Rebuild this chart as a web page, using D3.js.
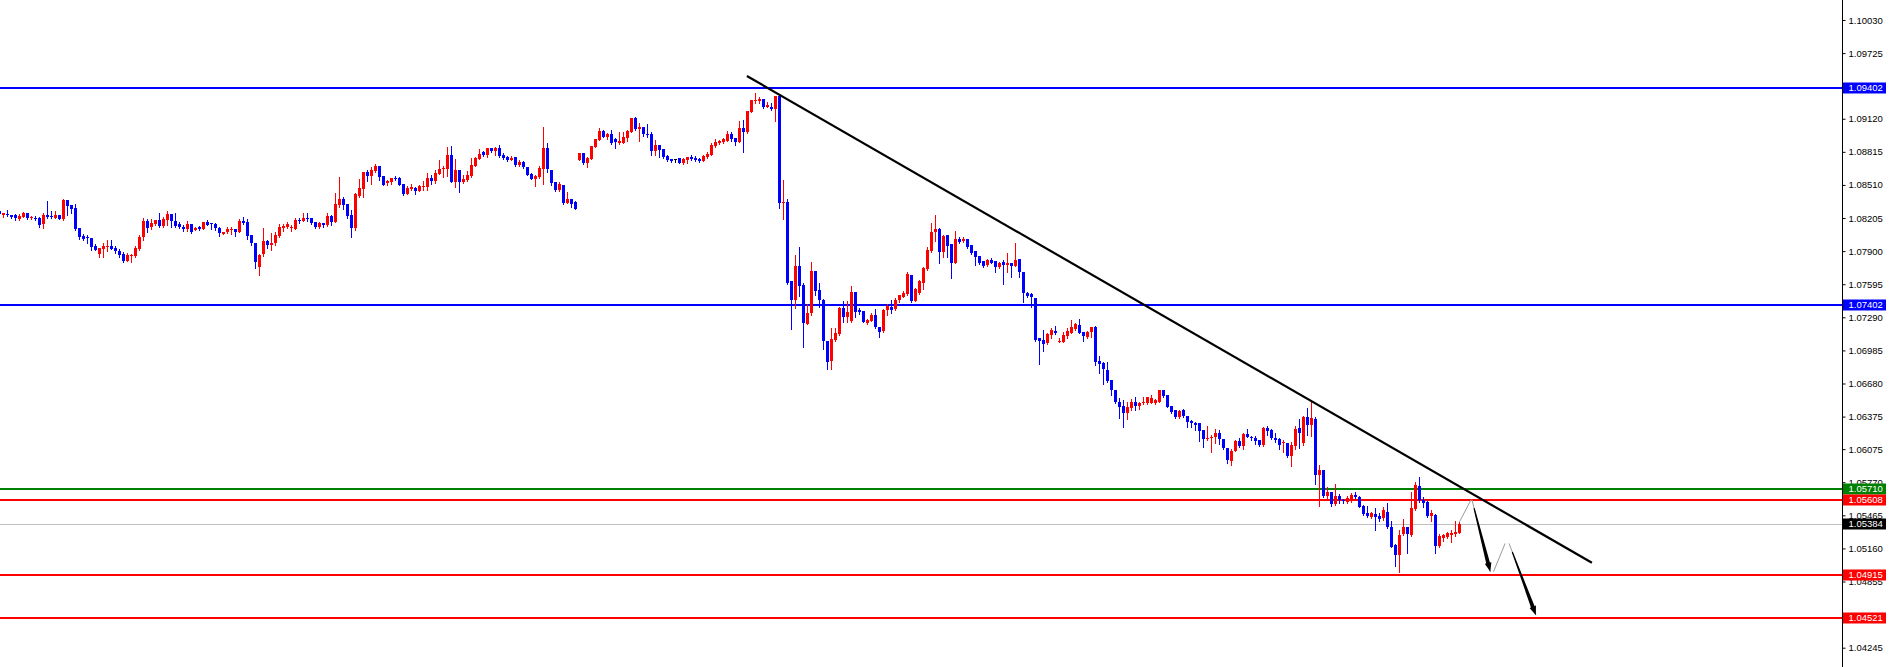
<!DOCTYPE html>
<html><head><meta charset="utf-8">
<script src="https://cdn.jsdelivr.net/npm/d3@7"></script>
<style>html,body{margin:0;padding:0;background:#fff;overflow:hidden}</style>
</head><body><svg id="chart" width="1889" height="667"></svg>
<script>
const opens=[
1.08273,1.08236,1.08245,1.08233,1.08236,1.08199,1.08217,1.08251,1.08202,1.08208,
1.08205,1.08147,1.08236,1.08227,1.08208,1.08236,1.08193,1.08371,1.08328,1.08297,
1.08110,1.08042,1.08027,1.08018,1.07950,1.07877,1.07923,1.07935,1.07947,1.07932,
1.07904,1.07873,1.07812,1.07858,1.07855,1.07920,1.08027,1.08177,1.08125,1.08153,
1.08187,1.08134,1.08184,1.08239,1.08177,1.08147,1.08125,1.08107,1.08147,1.08098,
1.08125,1.08104,1.08171,1.08156,1.08153,1.08113,1.08061,1.08073,1.08098,1.08107,
1.08079,1.08180,1.08168,1.08049,1.07978,1.07755,1.07870,1.07993,1.07957,1.07972,
1.08040,1.08113,1.08126,1.08110,1.08104,1.08190,1.08181,1.08208,1.08205,1.08168,
1.08122,1.08159,1.08141,1.08224,1.08168,1.08328,1.08380,1.08337,1.08233,1.08116,
1.08408,1.08472,1.08629,1.08592,1.08638,1.08684,1.08592,1.08528,1.08537,1.08577,
1.08577,1.08518,1.08426,1.08472,1.08482,1.08454,1.08491,1.08491,1.08574,1.08546,
1.08611,1.08654,1.08654,1.08786,1.08540,1.08647,1.08537,1.08555,1.08592,1.08684,
1.08752,1.08816,1.08786,1.08850,1.08825,1.08850,1.08786,1.08771,1.08740,1.08765,
1.08697,1.08725,1.08679,1.08611,1.08568,1.08584,1.08654,1.08851,1.08648,1.08541,
1.08464,1.08510,1.08347,1.08381,1.08356,1.08740,1.08805,1.08716,1.08752,1.08863,
1.08924,1.09007,1.08955,1.08983,1.08931,1.08900,1.08900,1.08946,1.09001,1.09130,
1.09026,1.09044,1.08983,1.08980,1.08826,1.08878,1.08842,1.08777,1.08752,1.08752,
1.08762,1.08716,1.08740,1.08768,1.08762,1.08752,1.08734,1.08771,1.08786,1.08869,
1.08897,1.08903,1.08915,1.08980,1.08943,1.08906,1.09032,1.08998,1.09185,1.09284,
1.09287,1.09302,1.09231,1.09231,1.09207,1.09330,1.08347,1.08350,1.07620,1.07445,
1.07764,1.07589,1.07230,1.07328,1.07721,1.07543,1.07451,1.07073,1.06883,1.07082,
1.07138,1.07374,1.07291,1.07260,1.07521,1.07353,1.07349,1.07236,1.07260,1.07313,
1.07205,1.07168,1.07353,1.07383,1.07365,1.07445,1.07481,1.07506,1.07681,1.07442,
1.07512,1.07610,1.07736,1.07905,1.08080,1.08105,1.07896,1.08049,1.07963,1.07795,
1.08013,1.07997,1.08010,1.07957,1.07902,1.07859,1.07810,1.07773,1.07819,1.07810,
1.07749,1.07802,1.07775,1.07787,1.07765,1.07827,1.07710,1.07510,1.07504,1.07471,
1.07096,1.07081,1.07050,1.07127,1.07164,1.07059,1.07065,1.07118,1.07148,1.07185,
1.07219,1.07157,1.07111,1.07157,1.07203,1.06890,1.06866,1.06804,1.06712,1.06620,
1.06513,1.06473,1.06411,1.06457,1.06513,1.06476,1.06497,1.06497,1.06504,1.06504,
1.06513,1.06620,1.06574,1.06473,1.06436,1.06368,1.06436,1.06384,1.06338,1.06319,
1.06313,1.06251,1.06166,1.06175,1.06184,1.06227,1.06166,1.06083,1.05969,1.06061,
1.06150,1.06107,1.06215,1.06190,1.06175,1.06159,1.06113,1.06270,1.06251,1.06175,
1.06166,1.06129,1.06129,1.06012,1.06107,1.06267,1.06129,1.06368,1.06298,1.06350,
1.05837,1.05883,1.05644,1.05684,1.05570,1.05643,1.05606,1.05591,1.05606,1.05652,
1.05637,1.05551,1.05489,1.05452,1.05477,1.05459,1.05437,1.05498,1.05360,1.05191,
1.05099,1.05293,1.05354,1.05284,1.05520,1.05738,1.05606,1.05591,1.05459,1.05468,
1.05185,1.05253,1.05268,1.05284,1.05293,1.05305];
const highs=[
1.08285,1.08251,1.08279,1.08233,1.08242,1.08239,1.08260,1.08251,1.08223,1.08227,
1.08217,1.08254,1.08362,1.08266,1.08273,1.08236,1.08380,1.08371,1.08328,1.08331,
1.08110,1.08061,1.08045,1.08018,1.07966,1.07929,1.07978,1.07999,1.08002,1.07950,
1.07923,1.07892,1.07883,1.07873,1.07950,1.08052,1.08202,1.08193,1.08193,1.08187,
1.08248,1.08211,1.08270,1.08239,1.08254,1.08168,1.08141,1.08174,1.08147,1.08119,
1.08131,1.08168,1.08187,1.08162,1.08162,1.08125,1.08079,1.08125,1.08125,1.08107,
1.08196,1.08211,1.08196,1.08049,1.07978,1.07873,1.08116,1.08003,1.08064,1.08080,
1.08150,1.08150,1.08168,1.08138,1.08202,1.08208,1.08251,1.08251,1.08205,1.08168,
1.08168,1.08159,1.08248,1.08233,1.08439,1.08583,1.08396,1.08337,1.08279,1.08439,
1.08565,1.08629,1.08647,1.08678,1.08703,1.08684,1.08592,1.08555,1.08574,1.08592,
1.08586,1.08518,1.08497,1.08515,1.08488,1.08509,1.08546,1.08623,1.08601,1.08647,
1.08740,1.08684,1.08862,1.08868,1.08752,1.08647,1.08601,1.08638,1.08761,1.08770,
1.08841,1.08825,1.08850,1.08850,1.08856,1.08878,1.08802,1.08777,1.08777,1.08765,
1.08740,1.08730,1.08679,1.08617,1.08602,1.08682,1.09044,1.08894,1.08648,1.08541,
1.08538,1.08510,1.08445,1.08381,1.08363,1.08805,1.08805,1.08771,1.08872,1.08931,
1.09038,1.09016,1.08992,1.09016,1.08940,1.09001,1.09001,1.09016,1.09127,1.09139,
1.09078,1.09044,1.09075,1.09001,1.08924,1.08878,1.08842,1.08789,1.08752,1.08752,
1.08762,1.08756,1.08768,1.08786,1.08777,1.08762,1.08786,1.08817,1.08897,1.08937,
1.08924,1.08940,1.09007,1.09001,1.08943,1.09102,1.09109,1.09188,1.09293,1.09354,
1.09323,1.09302,1.09277,1.09262,1.09330,1.09339,1.08556,1.08381,1.07620,1.07865,
1.07942,1.07607,1.07414,1.07804,1.07721,1.07607,1.07460,1.07073,1.07190,1.07190,
1.07389,1.07442,1.07442,1.07574,1.07521,1.07374,1.07349,1.07276,1.07334,1.07365,
1.07205,1.07365,1.07411,1.07451,1.07466,1.07497,1.07528,1.07706,1.07681,1.07558,
1.07635,1.07758,1.07942,1.08157,1.08234,1.08111,1.08049,1.08049,1.07963,1.08086,
1.08034,1.08034,1.08010,1.07957,1.07902,1.07859,1.07810,1.07828,1.07835,1.07810,
1.07804,1.07817,1.07885,1.07787,1.07971,1.07827,1.07710,1.07526,1.07510,1.07471,
1.07096,1.07173,1.07142,1.07188,1.07210,1.07096,1.07157,1.07188,1.07265,1.07234,
1.07271,1.07157,1.07164,1.07203,1.07210,1.06933,1.06881,1.06881,1.06712,1.06620,
1.06543,1.06528,1.06513,1.06534,1.06559,1.06513,1.06559,1.06559,1.06574,1.06537,
1.06620,1.06620,1.06574,1.06473,1.06436,1.06436,1.06445,1.06384,1.06344,1.06325,
1.06319,1.06251,1.06288,1.06205,1.06258,1.06251,1.06166,1.06083,1.06077,1.06159,
1.06175,1.06227,1.06258,1.06196,1.06196,1.06159,1.06282,1.06288,1.06258,1.06221,
1.06175,1.06159,1.06135,1.06144,1.06288,1.06350,1.06380,1.06451,1.06528,1.06374,
1.05929,1.05883,1.05730,1.05684,1.05754,1.05661,1.05612,1.05643,1.05667,1.05683,
1.05643,1.05560,1.05551,1.05498,1.05529,1.05483,1.05538,1.05575,1.05416,1.05201,
1.05330,1.05428,1.05354,1.05683,1.05775,1.05821,1.05630,1.05600,1.05514,1.05477,
1.05293,1.05293,1.05314,1.05330,1.05416,1.05406];
const lows=[
1.08230,1.08211,1.08227,1.08208,1.08190,1.08187,1.08211,1.08193,1.08193,1.08187,
1.08125,1.08116,1.08205,1.08205,1.08202,1.08193,1.08187,1.08236,1.08248,1.08095,
1.08009,1.08002,1.07972,1.07907,1.07910,1.07849,1.07849,1.07901,1.07920,1.07886,
1.07843,1.07803,1.07812,1.07803,1.07849,1.07910,1.08002,1.08076,1.08101,1.08141,
1.08125,1.08125,1.08141,1.08125,1.08125,1.08116,1.08088,1.08088,1.08070,1.08095,
1.08095,1.08101,1.08141,1.08101,1.08095,1.08042,1.08055,1.08064,1.08058,1.08042,
1.08073,1.08153,1.08015,1.07957,1.07744,1.07679,1.07855,1.07926,1.07911,1.07957,
1.08033,1.08089,1.08116,1.08089,1.08101,1.08162,1.08178,1.08178,1.08150,1.08113,
1.08110,1.08119,1.08135,1.08141,1.08168,1.08310,1.08288,1.08202,1.08033,1.08095,
1.08396,1.08396,1.08549,1.08518,1.08629,1.08555,1.08509,1.08512,1.08518,1.08555,
1.08509,1.08417,1.08426,1.08463,1.08426,1.08451,1.08463,1.08460,1.08518,1.08531,
1.08607,1.08580,1.08592,1.08537,1.08494,1.08448,1.08528,1.08546,1.08583,1.08684,
1.08752,1.08776,1.08770,1.08813,1.08789,1.08767,1.08752,1.08731,1.08740,1.08685,
1.08685,1.08667,1.08602,1.08562,1.08501,1.08577,1.08516,1.08633,1.08510,1.08458,
1.08458,1.08335,1.08347,1.08310,1.08292,1.08740,1.08703,1.08673,1.08746,1.08863,
1.08924,1.08955,1.08931,1.08888,1.08854,1.08884,1.08894,1.08918,1.09001,1.09016,
1.08918,1.08961,1.08949,1.08786,1.08786,1.08765,1.08762,1.08731,1.08725,1.08722,
1.08716,1.08706,1.08716,1.08737,1.08728,1.08725,1.08734,1.08762,1.08786,1.08863,
1.08891,1.08894,1.08915,1.08915,1.08878,1.08906,1.08817,1.08986,1.09179,1.09262,
1.09262,1.09219,1.09225,1.09201,1.09102,1.08301,1.08200,1.07598,1.07181,1.07377,
1.07488,1.07012,1.07230,1.07310,1.07497,1.07389,1.06996,1.06812,1.06812,1.07076,
1.07128,1.07251,1.07245,1.07251,1.07291,1.07322,1.07251,1.07227,1.07260,1.07190,
1.07113,1.07159,1.07310,1.07328,1.07359,1.07435,1.07475,1.07497,1.07435,1.07442,
1.07506,1.07552,1.07727,1.07896,1.07997,1.07795,1.07850,1.07850,1.07656,1.07788,
1.07979,1.07988,1.07933,1.07874,1.07773,1.07782,1.07758,1.07767,1.07788,1.07712,
1.07742,1.07596,1.07710,1.07658,1.07765,1.07664,1.07428,1.07474,1.07388,1.07071,
1.06857,1.06982,1.07044,1.07096,1.07136,1.07059,1.07059,1.07096,1.07142,1.07173,
1.07142,1.07071,1.07102,1.07111,1.06850,1.06774,1.06675,1.06697,1.06574,1.06497,
1.06359,1.06276,1.06350,1.06436,1.06436,1.06442,1.06488,1.06491,1.06497,1.06488,
1.06507,1.06559,1.06461,1.06405,1.06359,1.06359,1.06375,1.06282,1.06282,1.06252,
1.06150,1.06098,1.06159,1.06052,1.06129,1.06123,1.06073,1.05944,1.05929,1.06058,
1.06098,1.06077,1.06184,1.06159,1.06123,1.06104,1.06107,1.06205,1.06166,1.06144,
1.06073,1.06052,1.06006,1.05920,1.06073,1.06083,1.06113,1.06205,1.06196,1.05754,
1.05552,1.05637,1.05607,1.05552,1.05561,1.05575,1.05581,1.05581,1.05591,1.05621,
1.05538,1.05468,1.05446,1.05437,1.05330,1.05416,1.05422,1.05345,1.05170,1.05001,
1.04946,1.05284,1.05121,1.05277,1.05514,1.05591,1.05544,1.05452,1.05412,1.05115,
1.05176,1.05231,1.05253,1.05222,1.05274,1.05299];
const closes=[
1.08242,1.08251,1.08230,1.08217,1.08202,1.08227,1.08251,1.08202,1.08211,1.08199,
1.08144,1.08233,1.08214,1.08214,1.08236,1.08199,1.08371,1.08316,1.08291,1.08107,
1.08033,1.08015,1.08018,1.07941,1.07910,1.07929,1.07947,1.07947,1.07920,1.07898,
1.07864,1.07812,1.07864,1.07867,1.07926,1.08033,1.08177,1.08113,1.08159,1.08187,
1.08134,1.08196,1.08239,1.08177,1.08134,1.08119,1.08107,1.08147,1.08079,1.08113,
1.08104,1.08168,1.08144,1.08147,1.08110,1.08064,1.08079,1.08104,1.08107,1.08079,
1.08177,1.08162,1.08039,1.07978,1.07799,1.07864,1.07993,1.07957,1.07978,1.08049,
1.08126,1.08135,1.08153,1.08126,1.08187,1.08178,1.08208,1.08196,1.08159,1.08122,
1.08159,1.08141,1.08224,1.08168,1.08334,1.08380,1.08325,1.08224,1.08116,1.08426,
1.08482,1.08629,1.08592,1.08647,1.08684,1.08586,1.08509,1.08549,1.08574,1.08565,
1.08509,1.08426,1.08482,1.08491,1.08454,1.08500,1.08500,1.08574,1.08546,1.08620,
1.08657,1.08666,1.08786,1.08540,1.08647,1.08537,1.08565,1.08601,1.08693,1.08761,
1.08795,1.08786,1.08850,1.08822,1.08850,1.08776,1.08762,1.08740,1.08759,1.08694,
1.08722,1.08673,1.08602,1.08562,1.08596,1.08670,1.08851,1.08654,1.08525,1.08464,
1.08519,1.08347,1.08384,1.08335,1.08292,1.08805,1.08716,1.08762,1.08869,1.08931,
1.09010,1.08955,1.08983,1.08900,1.08906,1.08915,1.08955,1.09010,1.09127,1.09026,
1.09047,1.08980,1.08977,1.08826,1.08878,1.08832,1.08768,1.08740,1.08734,1.08752,
1.08716,1.08746,1.08768,1.08746,1.08740,1.08734,1.08777,1.08795,1.08878,1.08906,
1.08918,1.08931,1.08977,1.08934,1.08906,1.09032,1.09001,1.09188,1.09293,1.09296,
1.09302,1.09231,1.09247,1.09207,1.09330,1.08341,1.08353,1.07610,1.07451,1.07764,
1.07583,1.07242,1.07328,1.07718,1.07534,1.07451,1.07067,1.06874,1.07089,1.07144,
1.07380,1.07297,1.07337,1.07521,1.07337,1.07337,1.07251,1.07267,1.07313,1.07205,
1.07159,1.07359,1.07396,1.07359,1.07451,1.07491,1.07512,1.07687,1.07442,1.07549,
1.07620,1.07742,1.07911,1.08080,1.08105,1.07896,1.08043,1.07951,1.07795,1.08010,
1.07988,1.08013,1.07942,1.07887,1.07850,1.07788,1.07764,1.07819,1.07795,1.07758,
1.07795,1.07771,1.07787,1.07762,1.07817,1.07704,1.07510,1.07489,1.07474,1.07081,
1.07075,1.07044,1.07133,1.07173,1.07148,1.07071,1.07127,1.07164,1.07197,1.07228,
1.07148,1.07118,1.07157,1.07203,1.06881,1.06860,1.06811,1.06706,1.06620,1.06507,
1.06467,1.06411,1.06467,1.06513,1.06473,1.06497,1.06513,1.06553,1.06543,1.06528,
1.06620,1.06568,1.06467,1.06415,1.06368,1.06430,1.06381,1.06322,1.06313,1.06298,
1.06245,1.06166,1.06178,1.06190,1.06227,1.06166,1.06083,1.05975,1.06061,1.06153,
1.06104,1.06215,1.06190,1.06175,1.06150,1.06113,1.06270,1.06245,1.06175,1.06159,
1.06113,1.06144,1.06012,1.06113,1.06258,1.06221,1.06374,1.06298,1.06359,1.05837,
1.05883,1.05644,1.05684,1.05570,1.05644,1.05606,1.05597,1.05621,1.05652,1.05630,
1.05544,1.05477,1.05459,1.05483,1.05452,1.05431,1.05514,1.05354,1.05176,1.05099,
1.05284,1.05354,1.05293,1.05529,1.05744,1.05606,1.05575,1.05459,1.05483,1.05182,
1.05277,1.05284,1.05299,1.05305,1.05314,1.05384];

const tickValues=[1.10030,1.09725,1.09120,1.08815,1.08510,1.08205,1.07900,1.07595,1.07290,1.06985,1.06680,1.06375,1.06075,1.05770,1.05465,1.05160,1.04855,1.04245];
const levelValues=[1.09402,1.07402,1.05710,1.05608,1.04915,1.04521];
const levelColors=["#0000ff","#0000ff","#008000","#ff0000","#ff0000","#ff0000"];
const currentPrice=1.05384;
const trendIdx=[186.85,398.1];
const trendPrice=[1.09514,1.05028];
const legFromIdx=[365.0,368.1,373.5,377.4];
const legFromPrice=[1.05405,1.05610,1.04945,1.05206];
const legToIdx=[367.9,372.7,376.4,384.1];
const legToPrice=[1.05610,1.04945,1.05206,1.04545];
const legArrow=[false,true,false,true];

const W=1889,H=667,axisX=1842.5;
const svg=d3.select("#chart");
svg.append("rect").attr("width",W).attr("height",H).attr("fill","#fff");
const x=d3.scaleLinear().domain([0,365]).range([-0.5,1459.5]);
const y=d3.scaleLinear().domain([1.04245,1.10030]).range([647.7,20]);
const plot=svg.append("g");

plot.append("line").attr("x1",0).attr("x2",axisX).attr("y1",Math.round(y(currentPrice))+0.5).attr("y2",Math.round(y(currentPrice))+0.5)
  .attr("stroke","#c0c0c0").attr("stroke-width",1);

levelValues.forEach((v,k)=>{
  plot.append("line").attr("x1",0).attr("x2",axisX).attr("y1",Math.round(y(v))).attr("y2",Math.round(y(v)))
   .attr("stroke",levelColors[k]).attr("stroke-width",2).attr("shape-rendering","crispEdges");
});

const data=opens.map((o,i)=>({i,o,h:highs[i],l:lows[i],c:closes[i]}));
const col=d=>d.c>d.o?"#ff0000":(d.c<d.o?"#0000ff":"#000000");
const cg=plot.append("g").attr("shape-rendering","crispEdges");
cg.selectAll("line.w").data(data).join("line").attr("class","w")
  .attr("x1",d=>x(d.i)).attr("x2",d=>x(d.i))
  .attr("y1",d=>Math.round(y(d.h))).attr("y2",d=>Math.round(y(d.l))+1)
  .attr("stroke",col).attr("stroke-width",1);
cg.selectAll("rect.b").data(data).join("rect").attr("class","b")
  .attr("x",d=>x(d.i)-1.5).attr("width",3)
  .attr("y",d=>Math.round(y(Math.max(d.o,d.c))))
  .attr("height",d=>Math.max(1,Math.round(y(Math.min(d.o,d.c)))-Math.round(y(Math.max(d.o,d.c)))))
  .attr("fill",col);

plot.append("line").attr("x1",x(trendIdx[0])).attr("y1",y(trendPrice[0])).attr("x2",x(trendIdx[1])).attr("y2",y(trendPrice[1]))
  .attr("stroke","#000").attr("stroke-width",2.2);

legFromIdx.forEach((fi,k)=>{
  const x1=x(fi),y1=y(legFromPrice[k]),x2=x(legToIdx[k]),y2=y(legToPrice[k]);
  plot.append("line").attr("x1",x1).attr("y1",y1).attr("x2",x2).attr("y2",y2).attr("stroke","#9a9a9a").attr("stroke-width",1);
  if(legArrow[k]){
    const dx=x2-x1,dy=y2-y1,len=Math.hypot(dx,dy),ux=dx/len,uy=dy/len,nx=-uy,ny=ux;
    const sx=x1+dx*0.12,sy=y1+dy*0.12;
    const bx=x2-ux*9,by=y2-uy*9;
    const pts=[[sx+nx*0.6,sy+ny*0.6],[bx+nx*1.9,by+ny*1.9],[bx+nx*3.4,by+ny*3.4],[x2,y2],[bx-nx*3.4,by-ny*3.4],[bx-nx*1.9,by-ny*1.9],[sx-nx*0.6,sy-ny*0.6]];
    plot.append("path").attr("d","M"+pts.map(p=>p.join(",")).join("L")+"Z").attr("fill","#000");
  }
});

svg.append("line").attr("x1",axisX).attr("x2",axisX).attr("y1",0).attr("y2",H).attr("stroke","#000").attr("stroke-width",1);
const ax=svg.append("g").attr("transform",`translate(${axisX},0)`)
  .call(d3.axisRight(y).tickValues(tickValues).tickSize(3).tickPadding(3).tickFormat(d3.format(".5f")));
ax.select(".domain").remove();
ax.selectAll("line").attr("stroke","#000");
ax.selectAll("text").attr("font-family","'Liberation Sans',Arial,sans-serif").attr("font-size","9.5px").attr("fill","#000");

const labVals=levelValues.concat([currentPrice]);
const labCols=levelColors.concat(["#000000"]);
labVals.forEach((v,k)=>{
  const yy=y(v);
  svg.append("rect").attr("x",1843).attr("y",Math.round(yy)-5.5).attr("width",43).attr("height",11).attr("fill",labCols[k]);
  svg.append("text").attr("x",1848.5).attr("y",yy).attr("dy","0.32em").text(d3.format(".5f")(v))
    .attr("font-family","'Liberation Sans',Arial,sans-serif").attr("font-size","9.5px").attr("fill","#fff");
});
</script></body></html>
